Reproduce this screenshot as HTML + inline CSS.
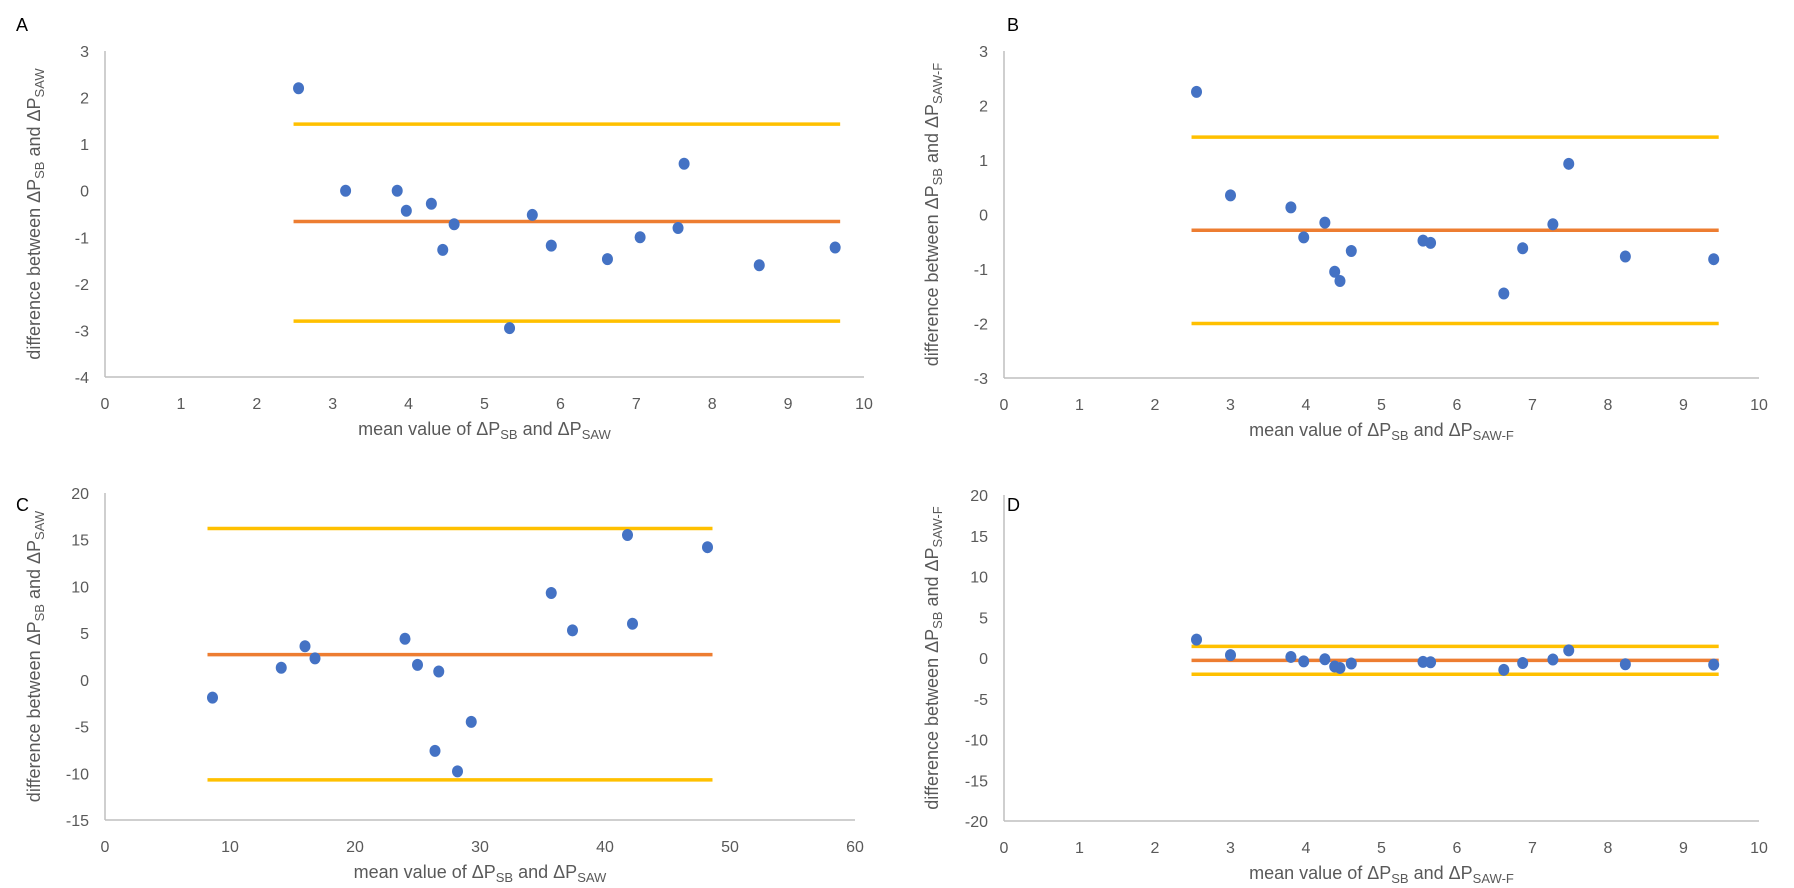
<!DOCTYPE html>
<html><head><meta charset="utf-8">
<style>
html,body{margin:0;padding:0;background:#fff;}
svg{display:block;font-family:"Liberation Sans",sans-serif;}
.tick{fill:#595959;font-size:16px;}
.title{fill:#595959;font-size:18px;}
.letter{fill:#000;font-size:18px;}
</style></head>
<body>
<svg id="chart" width="1794" height="888" viewBox="0 0 1794 888" xmlns="http://www.w3.org/2000/svg"></svg>
<script>
// Panel A data
const aX = [2.55,3.17,3.85,3.97,4.3,4.45,4.6,5.33,5.63,5.88,6.62,7.05,7.55,7.63,8.62,9.62];
const aY = [2.2,0,0,-0.43,-0.28,-1.27,-0.72,-2.95,-0.52,-1.18,-1.47,-1.0,-0.8,0.58,-1.6,-1.22];
const aLines = [1.43,-0.66,-2.8];
const aYTicks = [3,2,1,0,-1,-2,-3,-4];
const aXTicks = [0,1,2,3,4,5,6,7,8,9,10];
// Panel B data
const bX = [2.55,3.0,3.8,3.97,4.25,4.38,4.45,4.6,5.55,5.65,6.62,6.87,7.27,7.48,8.23,9.4];
const bY = [2.25,0.35,0.13,-0.42,-0.15,-1.05,-1.22,-0.67,-0.48,-0.52,-1.45,-0.62,-0.18,0.93,-0.77,-0.82];
const bLines = [1.42,-0.29,-2.0];
const bYTicks = [3,2,1,0,-1,-2,-3];
const bXTicks = [0,1,2,3,4,5,6,7,8,9,10];
// Panel C data
const cX = [8.6,14.1,16.0,16.8,24.0,25.0,26.7,26.4,28.2,29.3,35.7,37.4,41.8,42.2,48.2];
const cY = [-1.9,1.3,3.6,2.3,4.4,1.6,0.9,-7.6,-9.8,-4.5,9.3,5.3,15.5,6.0,14.2];
const cLines = [16.2,2.7,-10.7];
const cYTicks = [20,15,10,5,0,-5,-10,-15];
const cXTicks = [0,10,20,30,40,50,60];
// Panel D data (same as B, wider y range)
const dX = bX.slice();
const dY = bY.slice();
const dLines = bLines.slice();
const dYTicks = [20,15,10,5,0,-5,-10,-15,-20];
const dXTicks = [0,1,2,3,4,5,6,7,8,9,10];

const NS = "http://www.w3.org/2000/svg";
const svg = document.getElementById('chart');
function mk(tag, attrs, parent){
  const e = document.createElementNS(NS, tag);
  for (const k in attrs) e.setAttribute(k, attrs[k]);
  (parent||svg).appendChild(e);
  return e;
}
function sub(textEl, parts){
  parts.forEach(p=>{
    const t = document.createElementNS(NS,'tspan');
    t.textContent = p[0];
    if (p[1]) t.setAttribute('dy', p[1]);
    if (p[2]) t.setAttribute('font-size', p[2]);
    textEl.appendChild(t);
  });
}
function panel(cfg){
  const g = mk('g',{});
  
  
  const yMin = Math.min(...cfg.yTicks), yMax = Math.max(...cfg.yTicks);
  const xMin = Math.min(...cfg.xTicks), xMax = Math.max(...cfg.xTicks);
  const sx = v => cfg.x0 + (v - xMin)/(xMax - xMin)*(cfg.x1 - cfg.x0);
  const sy = v => cfg.yb - (v - yMin)/(yMax - yMin)*(cfg.yb - cfg.yt);
  const L = mk('text',{x:cfg.lx, y:cfg.ly, class:'letter'}, g);
  L.textContent = cfg.letter;
  
  
  const ya = mk('line',{x1:cfg.x0,y1:cfg.yt,x2:cfg.x0,y2:cfg.yb,stroke:'#bfbfbf','stroke-width':1.5},g);
  
  
  const xa = mk('line',{x1:cfg.x0,y1:cfg.yb,x2:cfg.x1,y2:cfg.yb,stroke:'#bfbfbf','stroke-width':1.5},g);
  
  
  cfg.yTicks.forEach(v=>{
    const t = mk('text',{x:cfg.x0-16,y:sy(v)+6,'text-anchor':'end',class:'tick'},g);
    t.textContent = v;
    
    
  });
  cfg.xTicks.forEach(v=>{
    const t = mk('text',{x:sx(v),y:cfg.yb+32,'text-anchor':'middle',class:'tick'},g);
    t.textContent = v;
    
    
  });
  const xs0 = Math.min(...cfg.xs), xs1 = Math.max(...cfg.xs);
  const colors = ['#FFC000','#ED7D31','#FFC000'];
  const lnames = ['upper-limit-line','mean-difference-line','lower-limit-line'];
  cfg.lines.forEach((v,i)=>{
    const l = mk('line',{x1:sx(xs0)-5,y1:sy(v),x2:sx(xs1)+5,y2:sy(v),stroke:colors[i],'stroke-width':3.5},g);
    
    
  });
  cfg.xs.forEach((x,i)=>{
    const c = mk('ellipse',{cx:sx(x),cy:sy(cfg.ys[i]),rx:5.5,ry:6,fill:'#4472C4'},g);
    
    
  });
  const xt = mk('text',{x:(cfg.x0+cfg.x1)/2,y:cfg.yb+58,'text-anchor':'middle',class:'title'},g);
  
  
  sub(xt, [['mean value of ΔP'],['SB',4,13],[' and ΔP',-4],[cfg.sub,4,13]]);
  const cy = (cfg.yt+cfg.yb)/2;
  const yt = mk('text',{x:0,y:0,'text-anchor':'middle',class:'title',transform:`translate(${cfg.tx},${cy}) rotate(-90)`},g);
  
  
  sub(yt, [['difference between  ΔP'],['SB',4,13],[' and ΔP',-4],[cfg.sub,4,13]]);
}
panel({name:'panel-a',letter:'A',lx:16,ly:31,x0:105,x1:864,yt:51,yb:377,tx:40,xs:aX,ys:aY,lines:aLines,yTicks:aYTicks,xTicks:aXTicks,sub:'SAW'});
panel({name:'panel-b',letter:'B',lx:1007,ly:31,x0:1004,x1:1759,yt:51,yb:378,tx:938,xs:bX,ys:bY,lines:bLines,yTicks:bYTicks,xTicks:bXTicks,sub:'SAW-F'});
panel({name:'panel-c',letter:'C',lx:16,ly:511,x0:105,x1:855,yt:493,yb:820,tx:40,xs:cX,ys:cY,lines:cLines,yTicks:cYTicks,xTicks:cXTicks,sub:'SAW'});
panel({name:'panel-d',letter:'D',lx:1007,ly:511,x0:1004,x1:1759,yt:495,yb:821,tx:938,xs:dX,ys:dY,lines:dLines,yTicks:dYTicks,xTicks:dXTicks,sub:'SAW-F'});
</script>
</body></html>
